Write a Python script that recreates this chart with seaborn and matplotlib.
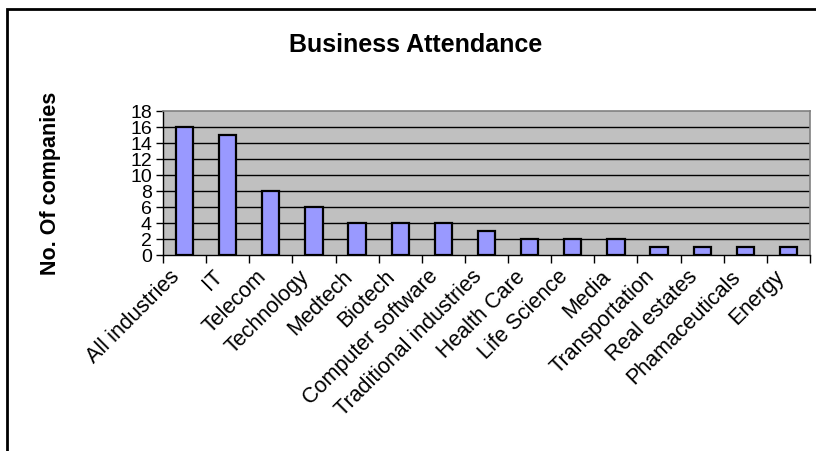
import matplotlib
matplotlib.use("Agg")
import matplotlib.pyplot as plt
import matplotlib.patches as mpatches
import matplotlib.transforms as mtransforms
import seaborn as sns
import pandas as pd
import numpy as np

industries = [
    "All industries", "IT", "Telecom", "Technology", "Medtech", "Biotech",
    "Computer software", "Traditional industries", "Health Care",
    "Life Science", "Media", "Transportation", "Real estates",
    "Phamaceuticals", "Energy",
]
companies = [16, 15, 8, 6, 4, 4, 4, 3, 2, 2, 2, 1, 1, 1, 1]
y_ticks = [0, 2, 4, 6, 8, 10, 12, 14, 16, 18]

df = pd.DataFrame({"industry": industries, "companies": companies})

sns.set_theme(style="white")
plt.rcParams["font.family"] = ["Liberation Sans", "DejaVu Sans"]
plt.rcParams["text.color"] = "black"
plt.rcParams["xtick.color"] = "black"
plt.rcParams["ytick.color"] = "black"
plt.rcParams["xtick.labelcolor"] = "black"
plt.rcParams["ytick.labelcolor"] = "black"

W, H = 816, 451
fig = plt.figure(figsize=(W / 100, H / 100), dpi=100)
ax = fig.add_axes([163 / W, 1 - 255 / H, (810 - 163) / W, (255 - 111) / H])

sns.barplot(data=df, x="industry", y="companies", ax=ax, color="#9999FF",
            saturation=1, width=0.4, edgecolor="black", linewidth=1.6,
            zorder=3)

ax.set_facecolor("#C0C0C0")
ax.set_xlim(-0.5, len(industries) - 0.5)
ax.set_ylim(0, 18)
ax.set_yticks(y_ticks)
ax.set_yticklabels([str(t) for t in y_ticks], fontsize=14, color="black")

# horizontal gridlines at every tick
for t in y_ticks[1:-1]:
    ax.axhline(t, color="black", lw=1, zorder=1)

# category labels under bar centres, tick marks on category boundaries
ax.set_xticks(np.arange(len(industries)))
ax.set_xticklabels(industries, rotation=45, ha="right", va="center",
                   rotation_mode="anchor", fontsize=15.5, color="black")
ax.tick_params(axis="x", which="major", length=0, pad=12)
ax.set_xticks(np.arange(-0.5, len(industries)), minor=True)
ax.tick_params(axis="x", which="minor", length=6, width=1, color="black",
               direction="out", bottom=True)
ax.tick_params(axis="y", length=5, width=1, color="black", direction="out",
               left=True, pad=3)

shift = mtransforms.ScaledTranslation(-8 / 100, -2 / 100, fig.dpi_scale_trans)
for lbl in ax.get_xticklabels():
    lbl.set_transform(lbl.get_transform() + shift)

for s in ["top", "right"]:
    ax.spines[s].set_color("#808080")
    ax.spines[s].set_linewidth(1.2)
for s in ["left", "bottom"]:
    ax.spines[s].set_color("black")
    ax.spines[s].set_linewidth(1)

ax.set_xlabel("")
ax.set_ylabel("")

fig.text(51 / W, 1 - 183 / H, "No. Of companies", rotation=90, ha="center",
         va="center", fontsize=15.5, fontweight="bold", color="black")
fig.text(416 / W, 1 - 45 / H, "Business Attendance", ha="center",
         va="center", fontsize=18, fontweight="bold", color="black")

# chart frame (left and top edges visible)
frame = mpatches.Rectangle((6.5 / W, -0.1), 1.2, 1.1 - 9.5 / H,
                           transform=fig.transFigure, fill=False,
                           edgecolor="black", linewidth=2, clip_on=False)
fig.patches.append(frame)

fig.savefig("out.png", dpi=100, facecolor="white")
